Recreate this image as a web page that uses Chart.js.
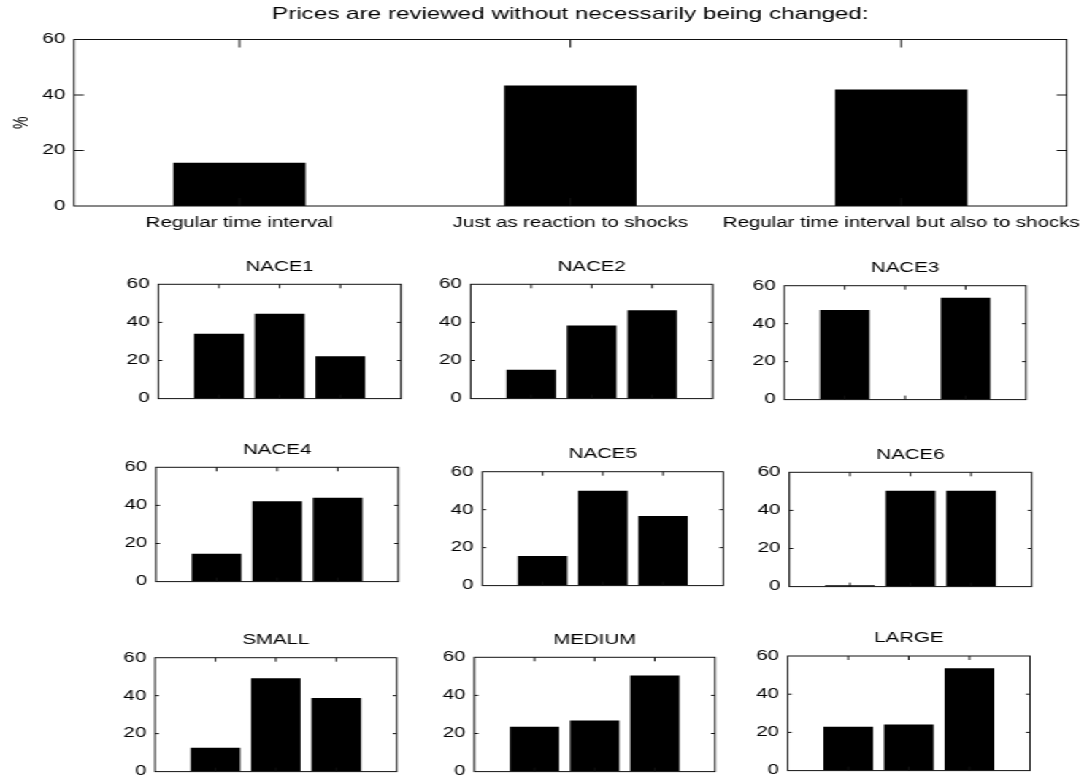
<!DOCTYPE html>
<html>
<head>
<meta charset="utf-8">
<title>Prices are reviewed without necessarily being changed</title>
<script src="https://cdn.jsdelivr.net/npm/chart.js@4.4.1/dist/chart.umd.min.js"></script>
<style>
  html, body { margin: 0; padding: 0; background: #fff; overflow: hidden; }
  /* the original figure is stretched sideways, so we draw narrow and stretch it too */
  #fig { position: absolute; left: 0; top: 0; width: 743px; height: 780px; transform: scaleX(1.46); transform-origin: 0 0; }
  #fig canvas { position: absolute; }
</style>
</head>
<body>
<div id="fig"></div>
<script>
// === DATA ===
const mainTitle = "Prices are reviewed without necessarily being changed:";
const categories = ["Regular time interval", "Just as reaction to shocks", "Regular time interval but also to shocks"];
const yTicks = [0, 20, 40, 60];
const overall = [15.6, 43.4, 42.0];

const panelTitles = ["NACE1", "NACE2", "NACE3", "NACE4", "NACE5", "NACE6", "SMALL", "MEDIUM", "LARGE"];
const nace1 = [34.0, 44.6, 22.2];
const nace2 = [15.2, 38.4, 46.4];
const nace3 = [47.2, 0, 53.6];
const nace4 = [14.6, 42.2, 44.0];
const nace5 = [15.6, 50.0, 36.6];
const nace6 = [0.7, 50.3, 50.3];
const small = [12.6, 49.2, 38.8];
const medium = [23.6, 26.8, 50.4];
const large = [23.0, 24.2, 53.6];
const panelValues = [nace1, nace2, nace3, nace4, nace5, nace6, small, medium, large];

// === LAYOUT (plot boxes in page pixels) ===
const SX = 1.46;
const topBox = { l: 74, r: 1068, t: 39.5, b: 206 };
const panelBoxes = [
  { l: 158.3, r: 401, t: 284.3, b: 402.7 },
  { l: 470.7, r: 712.7, t: 284.3, b: 402.7 },
  { l: 784.3, r: 1026, t: 285.7, b: 403.3 },
  { l: 156, r: 398.3, t: 467.3, b: 585.7 },
  { l: 482.3, r: 723.3, t: 471.7, b: 590 },
  { l: 789.3, r: 1031.7, t: 472.3, b: 590.7 },
  { l: 155, r: 396.7, t: 657.7, b: 775.7 },
  { l: 474.3, r: 715, t: 657.3, b: 775.7 },
  { l: 787.7, r: 1030, t: 656, b: 774.3 }
];

Chart.defaults.color = "#000";
Chart.defaults.font.family = "'Liberation Sans', Arial, sans-serif";
Chart.defaults.font.size = 14;

// === BOX WITH INWARD TICKS (matlab style) ===
const frame = {
  id: "frame",
  afterDatasetsDraw(chart, args, opts) {
    const { ctx, chartArea: a, scales } = chart;
    ctx.save();
    ctx.strokeStyle = "#111";
    ctx.lineWidth = 1;
    ctx.beginPath();
    opts.yMarks.forEach(v => {
      const py = scales.y.getPixelForValue(v);
      ctx.moveTo(a.left, py); ctx.lineTo(a.left + opts.ylen, py);
      ctx.moveTo(a.right, py); ctx.lineTo(a.right - opts.ylen, py);
    });
    opts.xMarks.forEach(v => {
      const px = scales.x.getPixelForValue(v);
      ctx.moveTo(px, a.top); ctx.lineTo(px, a.top + opts.xlen);
      ctx.moveTo(px, a.bottom); ctx.lineTo(px, a.bottom - opts.xlen);
    });
    ctx.stroke();
    ctx.strokeRect(a.left, a.top, a.right - a.left, a.bottom - a.top);
    ctx.restore();
  }
};

function makeCanvas(box, m) {
  const cl = Math.floor(box.l / SX - m.ml), ct = Math.floor(box.t - m.mt);
  const cw = Math.ceil(box.r / SX - cl + m.mr), ch = Math.ceil(box.b - ct + m.mb + (m.xH || 0));
  const c = document.createElement("canvas");
  c.width = cw; c.height = ch;
  c.style.left = cl + "px"; c.style.top = ct + "px";
  c.style.width = cw + "px"; c.style.height = ch + "px";
  document.getElementById("fig").appendChild(c);
  return {
    ctx: c.getContext("2d"),
    yW: box.l / SX - cl,
    titleH: box.t - ct,
    padR: cw - (box.r / SX - cl),
    padB: ch - (box.b - ct) - (m.xH || 0)
  };
}

function yScale(g, extra) {
  return Object.assign({
    min: 0, max: 60,
    afterBuildTicks: s => { s.ticks = yTicks.map(v => ({ value: v })); },
    grid: { display: false, drawTicks: false },
    border: { display: false },
    ticks: { padding: 6 },
    afterFit: s => { s.width = g.yW; }
  }, extra);
}

// === TOP CHART ===
(function () {
  const g = makeCanvas(topBox, { ml: 74 / SX, mt: 37.5, mr: 20, mb: 0, xH: 40 });
  new Chart(g.ctx, {
    type: "bar",
    data: {
      labels: categories,
      datasets: [{ data: overall, backgroundColor: "#000", borderWidth: 0, barPercentage: 0.4, categoryPercentage: 1 }]
    },
    options: {
      responsive: false, animation: false, events: [],
      layout: { padding: { left: 0, top: 0, right: g.padR, bottom: g.padB } },
      scales: {
        x: {
          type: "category", offset: true,
          grid: { display: false, drawTicks: false }, border: { display: false },
          ticks: { padding: 9, maxRotation: 0, autoSkip: false },
          afterFit: s => { s.height = 40; }
        },
        y: yScale(g, { title: { display: true, text: "%", font: { size: 14, lineHeight: 1 }, padding: { top: 7.7, bottom: 0 } } })
      },
      plugins: {
        legend: { display: false }, tooltip: { enabled: false },
        title: {
          display: true, text: mainTitle, fullSize: false,
          font: { size: 16.6, weight: "normal", lineHeight: 1 },
          padding: { top: g.titleH - 16.6 - 17.2, bottom: 17.2 }
        },
        frame: { yMarks: [20, 40], xMarks: [0, 1, 2], ylen: 10 / SX, xlen: 8 }
      }
    },
    plugins: [frame]
  });
})();

// === SMALL PANELS ===
panelTitles.forEach((name, i) => {
  const g = makeCanvas(panelBoxes[i], { ml: 30, mt: 30, mr: 8, mb: 10 });
  new Chart(g.ctx, {
    type: "bar",
    data: {
      datasets: [{
        data: panelValues[i].map((v, k) => ({ x: k + 1, y: v })),
        backgroundColor: "#000", borderWidth: 0, barPercentage: 0.82, categoryPercentage: 1
      }]
    },
    options: {
      responsive: false, animation: false, events: [],
      layout: { padding: { left: 0, top: 0, right: g.padR, bottom: g.padB } },
      scales: {
        x: { type: "linear", min: 0, max: 4, offset: false, display: false, ticks: { stepSize: 1 } },
        y: yScale(g, {})
      },
      plugins: {
        legend: { display: false }, tooltip: { enabled: false },
        title: {
          display: true, text: name, fullSize: false,
          font: { size: 14, weight: "normal", lineHeight: 1 },
          padding: { top: g.titleH - 14 - 10.5, bottom: 10.5 }
        },
        frame: { yMarks: [20, 40], xMarks: [1, 2, 3], ylen: 4 / SX, xlen: 4 }
      }
    },
    plugins: [frame]
  });
});
</script>
</body>
</html>
